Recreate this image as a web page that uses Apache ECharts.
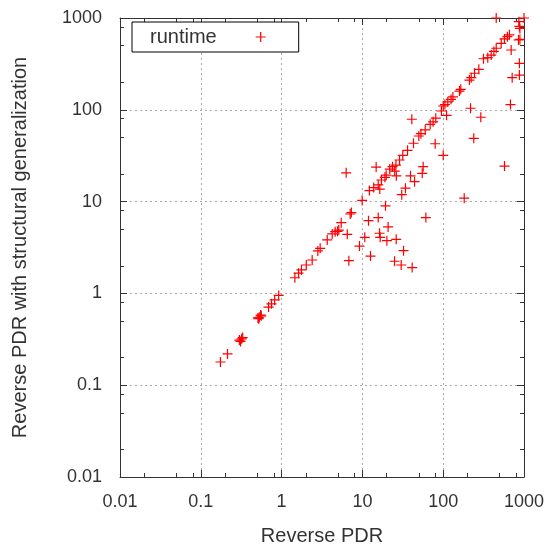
<!DOCTYPE html>
<html>
<head>
<meta charset="utf-8">
<script src="https://cdn.jsdelivr.net/npm/echarts@6/dist/echarts.min.js"></script>
<style>
html,body{margin:0;padding:0;background:#fff;}
#chart{width:549px;height:544px;}
</style>
</head>
<body>
<div id="chart"></div>
<script>
// Reverse PDR (x) and Reverse PDR with structural generalization (y), paired by index
const reversePDR = [
  0.175, 0.214, 0.30, 0.31, 0.32, 0.33, 0.51, 0.52, 0.53, 0.55, 0.56, 0.69, 0.75, 0.82, 0.92,
  1.46, 1.62, 1.76, 2.02, 2.39, 2.81, 3.0, 3.67, 4.23, 4.6, 4.92, 5.1, 5.47, 7.06, 7.3,
  6.5, 6.8, 6.3, 9.94, 12.2, 13.8, 15.7, 16.4, 17.2, 19.0, 19.7, 21.8, 23.6, 26.0, 25.1, 26.3,
  28.8, 31.6, 36.2, 42.9, 49.9, 53, 59.9, 69, 75, 81, 95, 100, 105, 114, 125, 132, 159, 165,
  211, 222, 244, 276, 315, 356, 393, 424, 453, 522, 573, 623, 660,
  453, 694, 863, 877, 1000, 855, 890, 877, 714, 877, 890, 680,
  14.8, 40.9, 79.6, 100, 110, 218, 292, 239, 574, 182, 56.5, 55, 44.2, 39.4, 34.1, 30.7,
  19.3, 15.7, 11.9, 20.8, 61, 16.3, 16.6, 10.7, 9.2, 20.1, 26.2, 32.3, 12.6, 25, 30.2, 41.3
];
const withStructGen = [
  0.179, 0.219, 0.31, 0.30, 0.32, 0.33, 0.54, 0.53, 0.55, 0.58, 0.57, 0.71, 0.77, 0.85, 0.95,
  1.48, 1.66, 1.80, 2.04, 2.31, 2.90, 3.1, 3.82, 4.44, 4.7, 4.75, 4.9, 5.89, 7.33, 7.6,
  4.4, 2.27, 20.6, 10.3, 13.2, 14.2, 15.2, 13.7, 17.2, 18.4, 19.4, 22.6, 24.0, 25.0, 21.5, 19.1,
  28.4, 31.9, 36.2, 43.2, 51.8, 55, 60.3, 69.5, 74, 81, 97, 110, 114, 122, 130, 138, 160, 167,
  211, 224, 250, 276, 360, 370, 395, 432, 468, 530, 591, 626, 655,
  1000, 448, 912, 810, 1000, 576, 585, 321, 224, 239, 770, 114,
  23.8, 78.9, 42.7, 31.9, 87, 104, 83, 48.9, 24.4, 10.9, 24.0, 20.3, 16.5, 19.1, 14.0, 11.9,
  9.0, 6.7, 6.2, 5.3, 6.7, 4.52, 4.08, 4.08, 3.28, 3.75, 3.88, 2.92, 2.55, 2.24, 2.04, 1.91
];
const seriesName = 'runtime';
const axisMin = 0.01;
const axisMax = 1000;
const tickLabels = ['0.01', '0.1', '1', '10', '100', '1000'];
const minorTickValues = [0.02, 0.05, 0.08, 0.2, 0.5, 0.8, 2, 5, 8, 20, 50, 80, 200, 500, 800];

const points = reversePDR.map((x, i) => [x, withStructGen[i]]);

const FONT = 'Liberation Sans';
const AXIS_COLOR = '#333';
const TEXT_COLOR = '#333';
const PLUS = 'path://M8.8,0H11.2V8.8H20V11.2H11.2V20H8.8V11.2H0V8.8H8.8Z';

function fmt(v) {
  return String(+Number(v).toPrecision(6));
}

function mainAxis(pos, isX, showLabel) {
  return {
    type: 'log', logBase: 10, min: axisMin, max: axisMax, splitNumber: 5,
    position: pos, gridIndex: 0,
    axisLine: { show: true, lineStyle: { color: AXIS_COLOR, width: 1 } },
    axisTick: { show: true, inside: true, length: 7, lineStyle: { color: AXIS_COLOR, width: 1 } },
    axisLabel: {
      show: showLabel, formatter: fmt, fontFamily: FONT, fontSize: 18, color: TEXT_COLOR,
      margin: isX ? 16 : 18
    },
    minorTick: { show: false },
    splitLine: showLabel ? { show: true, lineStyle: { color: '#aaa', type: [2, 3], width: 1 } } : { show: false }
  };
}
function minorAxis(pos) {
  return {
    type: 'log', logBase: 10, min: axisMin, max: axisMax, position: pos, gridIndex: 0,
    axisLine: { show: false },
    axisTick: { show: true, inside: true, length: 4, customValues: minorTickValues,
      lineStyle: { color: AXIS_COLOR, width: 1 } },
    axisLabel: { show: false },
    splitLine: { show: false }
  };
}

const xMain = mainAxis('bottom', true, true);
xMain.name = 'Reverse PDR';
xMain.nameLocation = 'middle';
xMain.nameGap = 49;
xMain.nameTextStyle = { fontFamily: FONT, fontSize: 20, color: TEXT_COLOR };

const yMain = mainAxis('left', false, true);
yMain.name = 'Reverse PDR with structural generalization';
yMain.nameLocation = 'middle';
yMain.nameGap = 90;
yMain.nameTextStyle = { fontFamily: FONT, fontSize: 20, color: TEXT_COLOR };

const chart = echarts.init(document.getElementById('chart'), null, { renderer: 'canvas' });
chart.setOption({
  backgroundColor: '#fff',
  animation: false,
  grid: { left: 120, right: 25, top: 18, bottom: 67, containLabel: false, outerBoundsMode: 'none' },
  legend: {
    data: [{ name: seriesName, icon: PLUS }],
    left: 132, top: 22,
    align: 'right',
    itemWidth: 78, itemHeight: 10,
    padding: [5, 33, 5, 18],
    backgroundColor: '#fff',
    borderColor: '#000', borderWidth: 1, borderRadius: 0,
    textStyle: { fontFamily: FONT, fontSize: 20, color: TEXT_COLOR, lineHeight: 14 },
    itemStyle: { color: '#ff0000' }
  },
  xAxis: [xMain, mainAxis('top', true, false), minorAxis('bottom'), minorAxis('top')],
  yAxis: [yMain, mainAxis('right', false, false), minorAxis('left'), minorAxis('right')],
  series: [{
    name: seriesName,
    type: 'scatter',
    xAxisIndex: 0, yAxisIndex: 0,
    data: points,
    symbol: PLUS,
    symbolSize: 10,
    clip: false,
    itemStyle: { color: '#ff0000', opacity: 1 },
    emphasis: { disabled: true }
  }]
});
</script>
</body>
</html>
